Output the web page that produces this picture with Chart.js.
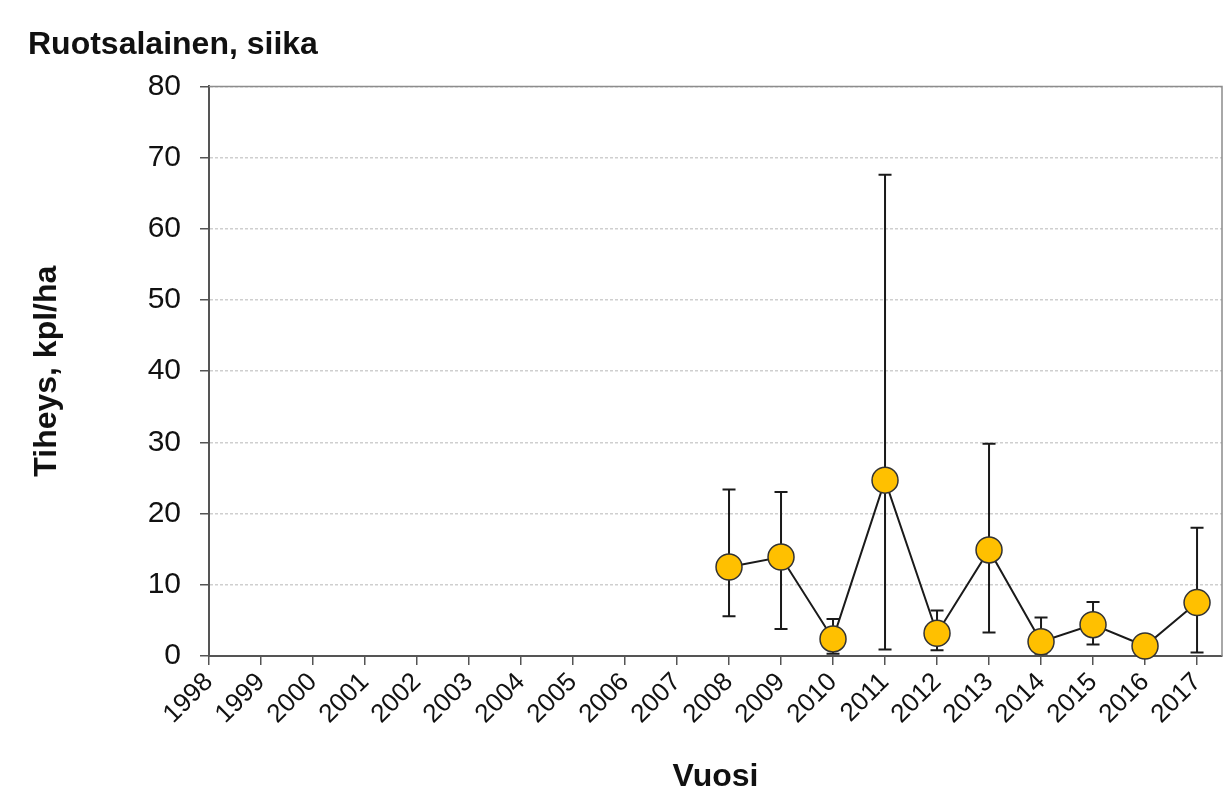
<!DOCTYPE html>
<html>
<head>
<meta charset="utf-8">
<script src="https://cdn.jsdelivr.net/npm/chart.js@4"></script>
<style>
  html, body { margin: 0; padding: 0; background: #fff; }
  #wrap { width: 1224px; height: 796px; }
</style>
</head>
<body>
<div id="wrap"><canvas id="chart" width="1224" height="796"></canvas></div>
<script>
// data
const years = [2008, 2009, 2010, 2011, 2012, 2013, 2014, 2015, 2016, 2017];
const density = [12.5, 13.9, 2.4, 24.7, 3.2, 14.9, 2.0, 4.4, 1.4, 7.5];
const upper = [23.4, 23.05, 5.2, 67.6, 6.4, 29.8, 5.4, 7.6, 2.0, 18.0];
const lower = [5.6, 3.8, 0.3, 0.9, 0.8, 3.3, 0.3, 1.6, 0.8, 0.5];
const xTicks = [1998, 1999, 2000, 2001, 2002, 2003, 2004, 2005, 2006, 2007,
    2008, 2009, 2010, 2011, 2012, 2013, 2014, 2015, 2016, 2017];
const yTicks = [0, 10, 20, 30, 40, 50, 60, 70, 80];

const font = "'Liberation Sans', Arial, sans-serif";

let errorBars = {
    id: "errorBars",
    beforeDatasetsDraw(chart) {
        let ctx = chart.ctx;
        let xs = chart.scales.x, ys = chart.scales.y;
        ctx.save();
        ctx.strokeStyle = "#1a1a1a";
        ctx.lineWidth = 2;
        years.forEach((yr, i) => {
            let px = xs.getPixelForValue(yr);
            let top = ys.getPixelForValue(upper[i]);
            let bot = ys.getPixelForValue(lower[i]);
            ctx.beginPath();
            ctx.moveTo(px, top); ctx.lineTo(px, bot);
            ctx.moveTo(px - 6.5, top); ctx.lineTo(px + 6.5, top);
            ctx.moveTo(px - 6.5, bot); ctx.lineTo(px + 6.5, bot);
            ctx.stroke();
        });
        ctx.restore();
    }
};

let frame = {
    id: "frame",
    beforeDatasetsDraw(chart) {
        let a = chart.chartArea, ctx = chart.ctx;
        ctx.save();
        ctx.strokeStyle = "#8c8c8c";
        ctx.lineWidth = 1.5;
        ctx.beginPath();
        ctx.moveTo(a.left, a.top); ctx.lineTo(a.right, a.top); ctx.lineTo(a.right, a.bottom);
        ctx.stroke();
        ctx.restore();
    }
};

let chart = new Chart(document.getElementById("chart"), {
    type: "line",
    data: {
        datasets: [{
            data: years.map((y, i) => ({ x: y, y: density[i] })),
            borderColor: "#1a1a1a",
            borderWidth: 2,
            pointRadius: 13,
            pointBackgroundColor: "#ffc000",
            pointBorderColor: "#333",
            pointBorderWidth: 1.5,
            tension: 0,
            clip: false
        }]
    },
    options: {
        responsive: false,
        animation: false,
        layout: { autoPadding: false, padding: { left: 28, right: 2, top: 26, bottom: 0 } },
        plugins: {
            legend: { display: false },
            tooltip: { enabled: false },
            title: {
                display: true,
                text: "Ruotsalainen, siika",
                align: "start",
                color: "#111",
                font: { family: font, size: 32, weight: "bold" },
                padding: { top: 0, bottom: 22 }
            }
        },
        scales: {
            x: {
                type: "linear",
                min: 1998,
                max: 2017.48,
                afterBuildTicks: (s) => { s.ticks = xTicks.map(v => ({ value: v })); },
                afterFit: (s) => { s.height = 140; s.paddingRight = 0; s.paddingLeft = 0; },
                ticks: {
                    autoSkip: false,
                    maxRotation: 45,
                    minRotation: 45,
                    color: "#111",
                    padding: 2,
                    font: { family: font, size: 26 },
                    callback: (v) => String(v)
                },
                grid: { drawOnChartArea: false, drawTicks: true, tickLength: 9, tickColor: "#555", lineWidth: 1.5 },
                border: { color: "#555", width: 2 },
                title: {
                    display: true,
                    text: "Vuosi",
                    color: "#111",
                    font: { family: font, size: 32, weight: "bold" },
                    padding: { top: 4, bottom: 0 }
                }
            },
            y: {
                min: 0,
                max: 80,
                afterBuildTicks: (s) => { s.ticks = yTicks.map(v => ({ value: v })); },
                afterFit: (s) => { s.width = 181; },
                ticks: {
                    color: "#111",
                    padding: 19,
                    font: { family: font, size: 30 }
                },
                grid: { color: (c) => c.tick && c.tick.value > 0 ? "#cfcfcf" : "rgba(0,0,0,0)", tickColor: "#555", tickLength: 9, lineWidth: 1.5 },
                border: { color: "#555", width: 2, dash: [3, 2] },
                title: {
                    display: true,
                    text: "Tiheys, kpl/ha",
                    color: "#111",
                    font: { family: font, size: 32, weight: "bold" },
                    padding: { top: 0, bottom: 0 }
                }
            }
        }
    },
    plugins: [frame, errorBars]
});
</script>
</body>
</html>
